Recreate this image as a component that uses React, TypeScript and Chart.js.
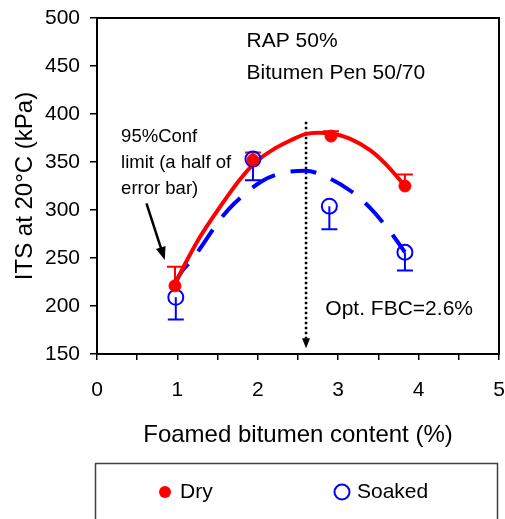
import React, { useEffect, useRef } from 'react';
import { Chart, registerables } from 'chart.js';

Chart.register(...registerables);

const FONT = '"Liberation Sans", Arial, Helvetica, sans-serif';

// ---- data ----
const dryX = [0.97, 1.94, 2.91, 3.83];
const dryY = [221, 352, 377, 325];
const dryErr = [20, 8, 5, 12];

const soakedX = [0.98, 1.94, 2.89, 3.83];
const soakedY = [209, 353, 304, 256];
const soakedErr = [23, 22, 24, 19];

const dryFitX = [0.97, 1.09, 1.26, 1.47, 1.62, 1.78, 1.96, 2.21, 2.42, 2.59, 2.75, 2.9, 3.15, 3.4, 3.6, 3.83];
const dryFitY = [223, 243, 269, 296, 314, 332, 349, 364, 373, 379, 380.5, 380, 374, 362, 347, 325];

const soakedFitX = [0.97, 1.01, 1.18, 1.3, 1.53, 1.71, 2.05, 2.28, 2.59, 2.84, 3.17, 3.4, 3.65, 3.83];
const soakedFitY = [221, 230, 248, 262, 290, 307, 330, 338, 341, 335, 319, 302, 277, 256];

const optFBC = 2.6;
const optLineY = [392, 166];
const optArrowTipY = 156;

const xMajorTicks = [0, 1, 2, 3, 4, 5];
const xMinorTicks = [0.5, 1.5, 2.5, 3.5, 4.5];
const yTicks = [150, 200, 250, 300, 350, 400, 450, 500];

const seriesLabels = ['Dry', 'Soaked'];
const xTitle = 'Foamed bitumen content (%)';
const yTitle = 'ITS at 20°C (kPa)';
const headerLines = ['RAP 50%', 'Bitumen Pen 50/70'];
const confLines = ['95%Conf', 'limit (a half of', 'error bar)'];
const optText = 'Opt. FBC=2.6%';

const RED = '#ff0000';
const BLUE = '#0000ff';

function arrowHead(ctx: CanvasRenderingContext2D, x1: number, y1: number, x2: number, y2: number, len: number, half: number) {
  const a = Math.atan2(y2 - y1, x2 - x1);
  ctx.beginPath();
  ctx.moveTo(x2, y2);
  ctx.lineTo(x2 - len * Math.cos(a) + half * Math.sin(a), y2 - len * Math.sin(a) - half * Math.cos(a));
  ctx.lineTo(x2 - len * Math.cos(a) - half * Math.sin(a), y2 - len * Math.sin(a) + half * Math.cos(a));
  ctx.closePath();
  ctx.fill();
}

const framePlugin = {
  id: 'frame',
  afterDatasetsDraw(chart: any) {
    const { ctx, chartArea: a } = chart;
    ctx.save();
    ctx.strokeStyle = '#000';
    ctx.lineWidth = 2;
    ctx.strokeRect(a.left, a.top, a.right - a.left, a.bottom - a.top);
    ctx.restore();
  },
};

const errorBarPlugin = {
  id: 'errorBars',
  beforeDatasetsDraw(chart: any) {
    const { ctx, scales } = chart;
    const xs = scales.x;
    const ys = scales.y;
    const draw = (X: number[], Y: number[], E: number[], dir: number, color: string) => {
      ctx.save();
      ctx.strokeStyle = color;
      ctx.lineWidth = 2;
      X.forEach((xv, i) => {
        const px = xs.getPixelForValue(xv);
        const p0 = ys.getPixelForValue(Y[i]);
        const p1 = ys.getPixelForValue(Y[i] + dir * E[i]);
        ctx.beginPath();
        ctx.moveTo(px, p0);
        ctx.lineTo(px, p1);
        ctx.moveTo(px - 8, p1);
        ctx.lineTo(px + 8, p1);
        ctx.stroke();
      });
      ctx.restore();
    };
    draw(dryX, dryY, dryErr, 1, RED);
    draw(soakedX, soakedY, soakedErr, -1, BLUE);
  },
};

const annotationPlugin = {
  id: 'notes',
  afterDatasetsDraw(chart: any) {
    const { ctx, scales } = chart;
    const X = (v: number) => scales.x.getPixelForValue(v);
    const Y = (v: number) => scales.y.getPixelForValue(v);
    ctx.save();
    ctx.fillStyle = '#000';
    ctx.strokeStyle = '#000';
    ctx.textAlign = 'left';
    ctx.textBaseline = 'middle';

    ctx.font = `21px ${FONT}`;
    ctx.fillText(headerLines[0], X(1.86), Y(476));
    ctx.fillText(headerLines[1], X(1.86), Y(443));

    ctx.font = `18.5px ${FONT}`;
    ctx.fillText(confLines[0], X(0.3), Y(376));
    ctx.fillText(confLines[1], X(0.3), Y(349));
    ctx.fillText(confLines[2], X(0.3), Y(322));

    ctx.font = `21px ${FONT}`;
    ctx.fillText(optText, X(2.84), Y(197));

    // arrow to error bar
    const ax1 = X(0.615), ay1 = Y(307), ax2 = X(0.843), ay2 = Y(248);
    ctx.lineWidth = 2.5;
    ctx.beginPath();
    ctx.moveTo(ax1, ay1);
    const ang = Math.atan2(ay2 - ay1, ax2 - ax1);
    ctx.lineTo(ax2 - 10 * Math.cos(ang), ay2 - 10 * Math.sin(ang));
    ctx.stroke();
    arrowHead(ctx, ax1, ay1, ax2, ay2, 13, 5);

    // arrowhead of optimum line
    const ox = X(optFBC);
    arrowHead(ctx, ox, Y(optLineY[1]), ox, Y(optArrowTipY), 10, 4);
    ctx.restore();
  },
};

const legendPlugin = {
  id: 'boxLegend',
  afterDraw(chart: any) {
    const { ctx } = chart;
    const ds = chart.data.datasets;
    ctx.save();
    ctx.strokeStyle = '#404040';
    ctx.lineWidth = 1.5;
    ctx.strokeRect(95.5, 463.5, 402, 80);
    ctx.font = `21px ${FONT}`;
    ctx.textBaseline = 'middle';
    ctx.textAlign = 'left';
    const items = [
      { x: 165, ds: ds[0] },
      { x: 342, ds: ds[1] },
    ];
    items.forEach((it) => {
      const cy = 492;
      ctx.beginPath();
      ctx.arc(it.x, cy, it.ds.pointRadius, 0, Math.PI * 2);
      if (it.ds.pointBackgroundColor && it.ds.pointBackgroundColor !== 'rgba(0,0,0,0)') {
        ctx.fillStyle = it.ds.pointBackgroundColor;
        ctx.fill();
      } else {
        ctx.strokeStyle = it.ds.pointBorderColor;
        ctx.lineWidth = 2;
        ctx.stroke();
      }
      ctx.fillStyle = '#000';
      ctx.fillText(it.ds.label, it.x + 15, cy);
    });
    ctx.restore();
  },
};

export default function App() {
  const ref = useRef<HTMLCanvasElement>(null);

  useEffect(() => {
    if (!ref.current) return;
    const toPts = (xs: number[], ys: number[]) => xs.map((x, i) => ({ x, y: ys[i] }));
    const chart = new Chart(ref.current, {
      type: 'scatter',
      data: {
        datasets: [
          {
            label: seriesLabels[0],
            data: toPts(dryX, dryY),
            pointRadius: 6,
            pointBackgroundColor: RED,
            pointBorderColor: RED,
            pointBorderWidth: 1,
            showLine: false,
          } as any,
          {
            label: seriesLabels[1],
            data: toPts(soakedX, soakedY),
            pointRadius: 7.5,
            pointBackgroundColor: 'rgba(0,0,0,0)',
            pointBorderColor: BLUE,
            pointBorderWidth: 2,
            showLine: false,
          } as any,
          {
            label: 'Dry fit',
            data: toPts(dryFitX, dryFitY),
            showLine: true,
            borderColor: RED,
            borderWidth: 4,
            pointRadius: 0,
            cubicInterpolationMode: 'monotone',
          } as any,
          {
            label: 'Soaked fit',
            data: toPts(soakedFitX, soakedFitY),
            showLine: true,
            borderColor: BLUE,
            borderWidth: 4,
            borderDash: [26, 16],
            pointRadius: 0,
            cubicInterpolationMode: 'monotone',
          } as any,
          {
            label: 'Opt',
            data: optLineY.map((y) => ({ x: optFBC, y })),
            showLine: true,
            borderColor: '#000',
            borderWidth: 2.5,
            borderDash: [2.5, 2.5],
            pointRadius: 0,
          } as any,
        ],
      },
      options: {
        responsive: false,
        animation: false,
        devicePixelRatio: 1,
        layout: { autoPadding: false, padding: { left: 11, top: 18, right: 6, bottom: 69 } },
        plugins: {
          legend: { display: false },
          tooltip: { enabled: false },
        },
        scales: {
          x: {
            type: 'linear',
            min: 0,
            max: 5,
            afterBuildTicks: (s: any) => {
              s.ticks = [...xMajorTicks, ...xMinorTicks].sort((a, b) => a - b).map((v) => ({ value: v }));
            },
            afterFit: (s: any) => {
              s.height = 96;
              s.paddingLeft = 0;
              s.paddingRight = 0;
              s.paddingTop = 0;
              s.paddingBottom = 0;
            },
            ticks: {
              autoSkip: false,
              maxRotation: 0,
              padding: 18,
              color: '#000',
              font: { family: FONT, size: 21 },
              callback: (v: any) => (xMajorTicks.includes(Number(v)) ? String(v) : ''),
            },
            grid: {
              display: true,
              drawOnChartArea: false,
              drawTicks: true,
              tickLength: 6,
              color: '#000',
              lineWidth: 1.5,
            },
            border: { display: true, color: '#000', width: 2 },
            title: {
              display: true,
              text: xTitle,
              color: '#000',
              padding: 0,
              font: { family: FONT, size: 24, lineHeight: 1.2 },
            },
          },
          y: {
            type: 'linear',
            min: 150,
            max: 500,
            afterBuildTicks: (s: any) => {
              s.ticks = yTicks.map((v) => ({ value: v }));
            },
            afterFit: (s: any) => {
              s.width = 86;
              s.paddingLeft = 0;
              s.paddingRight = 0;
              s.paddingTop = 0;
              s.paddingBottom = 0;
            },
            ticks: {
              padding: 10,
              color: '#000',
              font: { family: FONT, size: 21 },
            },
            grid: {
              display: true,
              drawOnChartArea: false,
              drawTicks: true,
              tickLength: 7,
              color: '#000',
              lineWidth: 1.5,
            },
            border: { display: true, color: '#000', width: 2 },
            title: {
              display: true,
              text: yTitle,
              color: '#000',
              padding: 0,
              font: { family: FONT, size: 24, lineHeight: 1.2 },
            },
          },
        },
      } as any,
      plugins: [errorBarPlugin, framePlugin, annotationPlugin, legendPlugin],
    });
    return () => chart.destroy();
  }, []);

  return (
    <div style={{ position: 'absolute', left: 0, top: 0, width: 505, height: 519, background: '#fff', overflow: 'hidden' }}>
      <canvas ref={ref} width={505} height={519} style={{ display: 'block', width: 505, height: 519 }} />
    </div>
  );
}
